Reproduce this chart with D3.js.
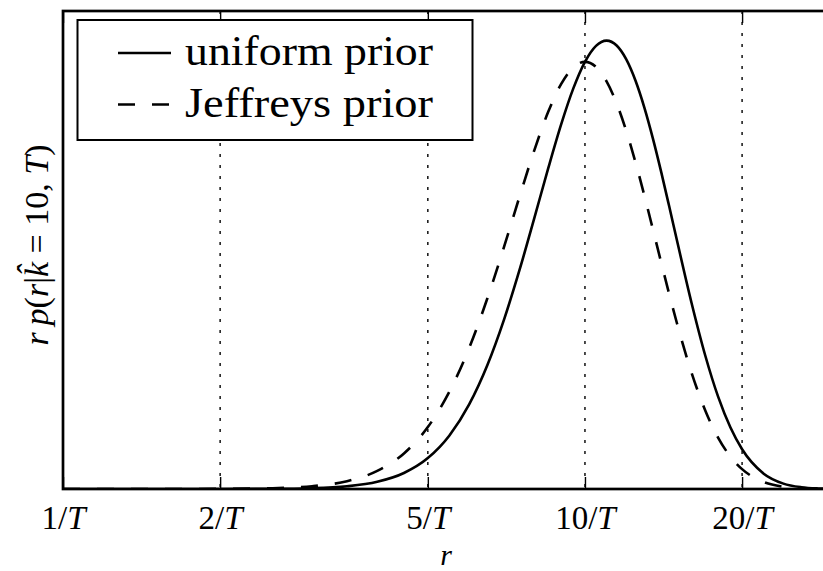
<!DOCTYPE html>
<html>
<head>
<meta charset="utf-8">
<script src="https://cdn.jsdelivr.net/npm/d3@7"></script>
<style>
  body { margin: 0; background: #fff; }
  text { font-family: "Liberation Serif", "DejaVu Serif", "Times New Roman", serif; fill: #000; }
</style>
</head>
<body>
<svg id="chart" width="823" height="571"></svg>
<script>
// Rate r (in units of 1/T) and the posterior density r·p(r | k̂ = 10, T)
const rValues = [1, 1.5, 2, 2.5, 3, 3.5, 4, 4.5, 5, 5.5, 6, 6.5, 7, 7.5, 8, 8.5, 9, 9.5,
  10, 10.5, 11, 11.5, 12, 12.5, 13, 13.5, 14, 14.5, 15, 16, 17, 18, 19, 20, 22, 24, 26, 28, 30];
const uniformPrior = [0.0000001, 0.000005, 0.00008, 0.00054, 0.0024, 0.0080, 0.0212, 0.0469,
  0.0906, 0.1569, 0.2478, 0.3625, 0.4969, 0.6437, 0.7941, 0.9383, 1.0672, 1.1733, 1.2511,
  1.2979, 1.3132, 1.2988, 1.2581, 1.1956, 1.1163, 1.0255, 0.9280, 0.8280, 0.7292, 0.5456,
  0.3910, 0.2697, 0.1799, 0.1163, 0.0449, 0.0158, 0.0052, 0.0016, 0.0005];
const jeffreysPrior = [0.000001, 0.000035, 0.00038, 0.0022, 0.0081, 0.0230, 0.0529, 0.1042,
  0.1813, 0.2853, 0.4130, 0.5578, 0.7098, 0.8583, 0.9927, 1.1039, 1.1858, 1.2351, 1.2511,
  1.2361, 1.1938, 1.1294, 1.0484, 0.9565, 0.8587, 0.7596, 0.6628, 0.5710, 0.4861, 0.3410,
  0.2300, 0.1499, 0.0947, 0.0582, 0.0204, 0.0066, 0.0020, 0.0006, 0.0002];
const tickValues = [1, 2, 5, 10, 20];
const tickNumerators = ["1", "2", "5", "10", "20"];
const seriesNames = ["uniform prior", "Jeffreys prior"];

const serif = '"Liberation Serif", "DejaVu Serif", "Times New Roman", serif';
const svg = d3.select("#chart");
const plot = { left: 63, right: 834, top: 11, bottom: 489 };

const x = d3.scaleLog().domain([1, 30]).range([plot.left, plot.right]);
const y = d3.scaleLinear().domain([0, 1.4]).range([plot.bottom, plot.top]);

svg.append("defs").append("clipPath").attr("id", "plotClip")
  .append("rect")
  .attr("x", plot.left).attr("y", plot.top)
  .attr("width", plot.right - plot.left).attr("height", plot.bottom - plot.top);

// dotted vertical grid at the major ticks
svg.append("g")
  .selectAll("line")
  .data(tickValues.filter(v => v > 1))
  .join("line")
  .attr("x1", d => x(d)).attr("x2", d => x(d))
  .attr("y1", plot.top).attr("y2", plot.bottom)
  .attr("stroke", "#000")
  .attr("stroke-width", 1.4)
  .attr("stroke-dasharray", "3,8");

// curves
const series = [
  { name: seriesNames[0], values: uniformPrior, dash: null },
  { name: seriesNames[1], values: jeffreysPrior, dash: "17,17" }
];
const line = d3.line()
  .x(d => x(d[0]))
  .y(d => y(d[1]))
  .curve(d3.curveMonotoneX);

svg.append("g").attr("clip-path", "url(#plotClip)")
  .selectAll("path")
  .data(series)
  .join("path")
  .attr("d", s => line(rValues.map((r, i) => [r, s.values[i]])))
  .attr("fill", "none")
  .attr("stroke", "#000")
  .attr("stroke-width", 2.6)
  .attr("stroke-dasharray", s => s.dash);

// bottom axis with inward ticks
const bottomAxis = svg.append("g")
  .attr("transform", `translate(0,${plot.bottom})`)
  .call(d3.axisBottom(x).tickValues(tickValues).tickSizeInner(-12).tickSizeOuter(0));
bottomAxis.select(".domain").remove();
bottomAxis.selectAll(".tick line").attr("stroke-width", 1.4);
bottomAxis.selectAll(".tick text").each(function (d, i) {
  const t = d3.select(this);
  t.text(null)
    .attr("y", 40).attr("dy", null)
    .attr("font-size", 33)
    .attr("font-family", serif)
    .attr("fill", "#000");
  t.append("tspan").text(tickNumerators[i] + "/");
  t.append("tspan").attr("font-style", "italic").text("T");
});

// top axis ticks, no labels
const topAxis = svg.append("g")
  .attr("transform", `translate(0,${plot.top})`)
  .call(d3.axisTop(x).tickValues(tickValues).tickSizeInner(-12).tickSizeOuter(0).tickFormat(""));
topAxis.select(".domain").remove();
topAxis.selectAll(".tick line").attr("stroke-width", 1.4);

// frame
svg.append("rect")
  .attr("x", plot.left).attr("y", plot.top)
  .attr("width", plot.right - plot.left).attr("height", plot.bottom - plot.top)
  .attr("fill", "none")
  .attr("stroke", "#000")
  .attr("stroke-width", 2.7);

// axis labels
svg.append("text")
  .attr("x", 446).attr("y", 564.5)
  .attr("text-anchor", "middle")
  .attr("font-family", serif)
  .attr("font-size", 30)
  .attr("font-style", "italic")
  .text("r");

const yLabelParts = [
  ["r", true], ["\u2009", false], ["p", true], ["(", false], ["r", true], ["|", false],
  ["k\u0302", true], [" = 10, ", false], ["T", true], [")", false]
];
const yLabel = svg.append("text")
  .attr("transform", "translate(48,245) rotate(-90)")
  .attr("text-anchor", "middle")
  .attr("font-family", serif)
  .attr("font-size", 34);
yLabel.selectAll("tspan")
  .data(yLabelParts)
  .join("tspan")
  .attr("font-style", d => d[1] ? "italic" : "normal")
  .text(d => d[0]);

// legend
const legend = svg.append("g");
legend.append("rect")
  .attr("x", 77.5).attr("y", 20)
  .attr("width", 395).attr("height", 120)
  .attr("fill", "#fff")
  .attr("stroke", "#000")
  .attr("stroke-width", 2);
const legendRows = legend.selectAll("g.row")
  .data(series)
  .join("g")
  .attr("class", "row")
  .attr("transform", (d, i) => `translate(0,${i * 51.5})`);
legendRows.append("line")
  .attr("x1", 118).attr("x2", 171)
  .attr("y1", 53).attr("y2", 53)
  .attr("stroke", "#000")
  .attr("stroke-width", 2.6)
  .attr("stroke-dasharray", d => d.dash);
legendRows.append("text")
  .attr("x", 185).attr("y", 65)
  .attr("font-family", serif)
  .attr("font-size", 42)
  .attr("textLength", 248)
  .attr("lengthAdjust", "spacingAndGlyphs")
  .text(d => d.name);
</script>
</body>
</html>
